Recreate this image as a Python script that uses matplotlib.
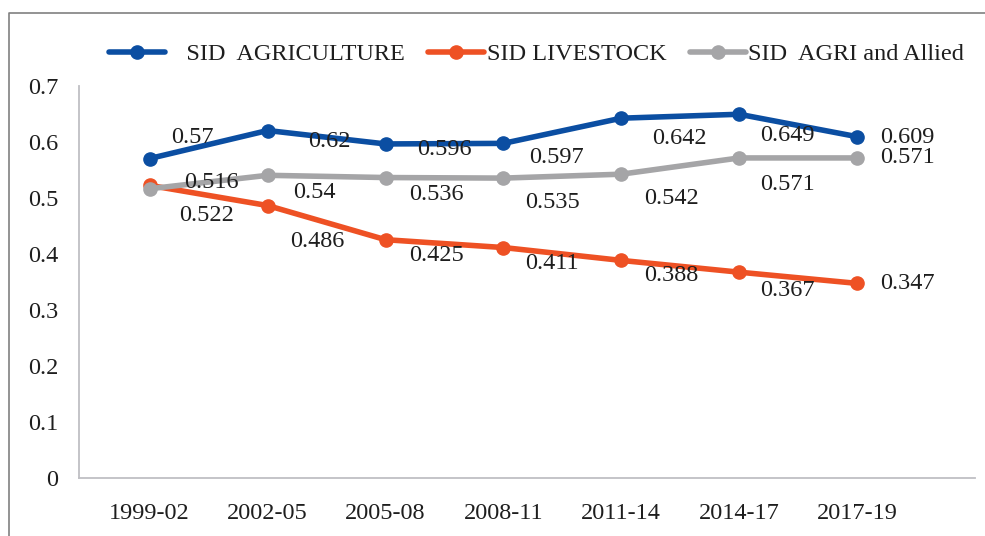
import matplotlib
matplotlib.use('Agg')
import matplotlib.pyplot as plt
from matplotlib.lines import Line2D

plt.rcParams['font.family'] = ['Liberation Serif', 'DejaVu Serif']

# periods and index values
periods = ['1999-02', '2002-05', '2005-08', '2008-11', '2011-14', '2014-17', '2017-19']
sid_agri = [0.57, 0.62, 0.596, 0.597, 0.642, 0.649, 0.609]
sid_live = [0.522, 0.486, 0.425, 0.411, 0.388, 0.367, 0.347]
sid_allied = [0.516, 0.54, 0.536, 0.535, 0.542, 0.571, 0.571]

names = ['   SID  AGRICULTURE', 'SID LIVESTOCK', 'SID  AGRI and Allied']
colors = ['#0B4EA2', '#EE5124', '#A5A5A7']

# where each value label sits relative to its point (pixels, x right / y down)
off_agri = [(43, -21), (62, 11), (59, 6), (53, 14), (58, 20), (48, 21), (50, 1)]
off_live = [(57, 30), (50, 36), (51, 16), (49, 16), (50, 15), (48, 18), (50, 0)]
off_allied = [(62, -6), (47, 17), (51, 17), (49, 24), (50, 24), (48, 27), (50, 0)]

fig = plt.figure(figsize=(9.85, 5.36), dpi=100)
ax = fig.add_axes([0.0802, 0.1088, 0.9096, 0.7313])

x = list(range(len(periods)))
series = [sid_agri, sid_live, sid_allied]
offsets = [off_agri, off_live, off_allied]
handles = []
for vals, c, name in zip(series, colors, names):
    h, = ax.plot(x, vals, color=c, lw=4, marker='o', ms=9.5, label=name,
                 solid_capstyle='round')
    handles.append(h)

for vals, offs in zip(series, offsets):
    for xi, v, (dx, dy) in zip(x, vals, offs):
        ax.annotate(f'{v:g}', (xi, v), xytext=(dx, -dy), textcoords='offset pixels',
                    ha='center', va='center', fontsize=17.5, color='#1E1E1E', zorder=5)

ax.set_xlim(-0.6, 7.0)
ax.set_ylim(0, 0.7)
ax.set_xticks(x)
ax.set_xticklabels(periods)
ax.set_yticks([0, 0.1, 0.2, 0.3, 0.4, 0.5, 0.6, 0.7])
ax.set_yticklabels(['0', '0.1', '0.2', '0.3', '0.4', '0.5', '0.6', '0.7'])
ax.tick_params(length=0, labelsize=17.5, colors='#1E1E1E')
ax.tick_params(axis='y', pad=15)
ax.tick_params(axis='x', pad=18)
for s in ['top', 'right']:
    ax.spines[s].set_visible(False)
for s in ['left', 'bottom']:
    ax.spines[s].set_color('#BFBFC4')
    ax.spines[s].set_linewidth(1.3)

ax.legend(handles=handles, loc='center', bbox_to_anchor=(0.545, 0.899),
          bbox_transform=fig.transFigure, ncol=3, frameon=False, fontsize=17.5,
          handlelength=2.3, handletextpad=0.12, columnspacing=0.95,
          labelcolor='#1E1E1E')

# outer frame around the chart area
fy = 1 - 12.7 / 536
fx = 9 / 985
fig.add_artist(Line2D([fx, fx, 1.0], [0, fy, fy], transform=fig.transFigure,
                      color='#808080', lw=1.2))

fig.savefig('out.png', dpi=100)
